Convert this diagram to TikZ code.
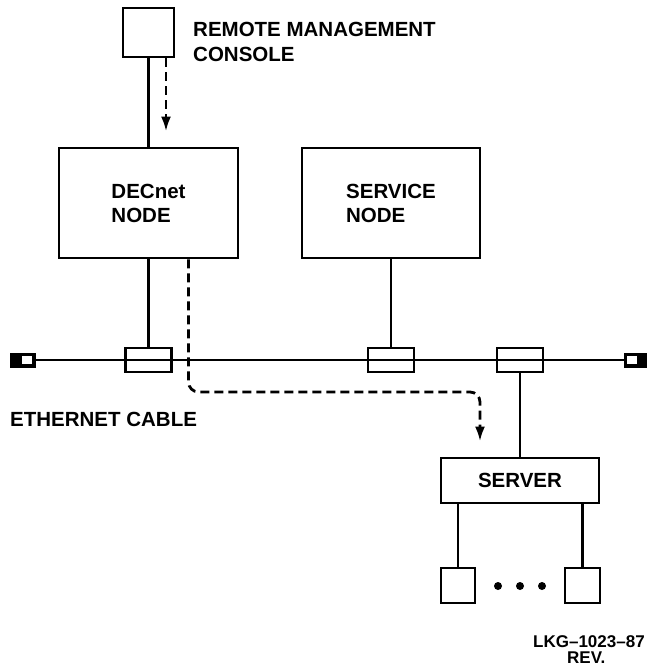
\documentclass[tikz,border=0pt]{standalone}
\usepackage{fontspec}
\setmainfont{Liberation Sans}
\usetikzlibrary{arrows.meta, calc, positioning}
\tikzset{
  box/.style={draw, line width=2.9pt, inner sep=0pt, align=left, font=\fontsize{20.5}{24}\selectfont\bfseries},
  tap/.style={draw, line width=2.5pt, minimum width=46pt, minimum height=24pt, inner sep=0pt},
  terminator/.style={draw, fill=black, line width=1pt, minimum width=25pt, minimum height=14pt, inner sep=0pt},
  caption/.style={inner sep=0pt, align=left, font=\fontsize{20.5}{25}\selectfont\bfseries},
  wire/.style={line width=2.8pt},
  flow/.style={line width=2.8pt, dash pattern=on 9pt off 5pt, rounded corners=10pt, -{Latex[length=15pt,width=10pt]}}
}

\begin{document}
\begin{tikzpicture}[x=1pt, y=-1pt]
\useasboundingbox (0,0) rectangle (647,670);

\node[box, minimum width=51pt, minimum height=49pt] (console) at (148.5,32.5) {};
\node[caption, anchor=north west] (rmc) at (193,22) {REMOTE MANAGEMENT\\CONSOLE};

\node[box, minimum width=179pt, minimum height=110pt] (decnet) at (148.5,203) {DECnet\\NODE};
\node[box, minimum width=178pt, minimum height=110pt] (service) at (391,203) {SERVICE\\NODE};

\node[terminator] (endL) at (22.5,360) {};
\node[terminator] (endR) at (636.5,360) {};
\fill[white] (22,356) rectangle (32,364);
\fill[white] (627,356) rectangle (637,364);

\node[tap] (tap1) at (148.5,360) {};
\node[tap] (tap2) at (391,360) {};
\node[tap] (tap3) at (520,360) {};

\node[caption, anchor=west] (cable) at (10,419) {ETHERNET CABLE};

\node[box, minimum width=158pt, minimum height=45pt, align=center] (server) at (520,480.5) {SERVER};
\node[box, minimum width=34pt, minimum height=35pt] (term1) at (458,585.5) {};
\node[box, minimum width=35pt, minimum height=35pt] (term2) at (582.5,585.5) {};
\foreach \x in {498,520,542}
  \fill (\x,586) circle (4pt);

\node[inner sep=0pt, anchor=base west, font=\fontsize{17}{19}\selectfont\bfseries] (lkg) at (533,647) {LKG--1023--87};
\node[inner sep=0pt, anchor=base west, font=\fontsize{17}{19}\selectfont\bfseries] (rev) at (567,663) {REV.};

\draw[wire]
(console.south) -- (decnet.north)
(decnet.south) -- (tap1.north)
(service.south) -- (tap2.north)
(tap3.south) -- (server.north)
(term1.north |- server.south) -- (term1.north)
(term2.north |- server.south) -- (term2.north);
\draw[line width=2.2pt] (endL.east) -- (endR.west);

\draw[flow] ([xshift=17.5pt]console.south) -- ([xshift=17.5pt,yshift=15pt]decnet.north);
\draw[flow] ([xshift=40pt]decnet.south) |- (480,392) -- ([xshift=-40pt,yshift=15pt]server.north);
\end{tikzpicture}
\end{document}
